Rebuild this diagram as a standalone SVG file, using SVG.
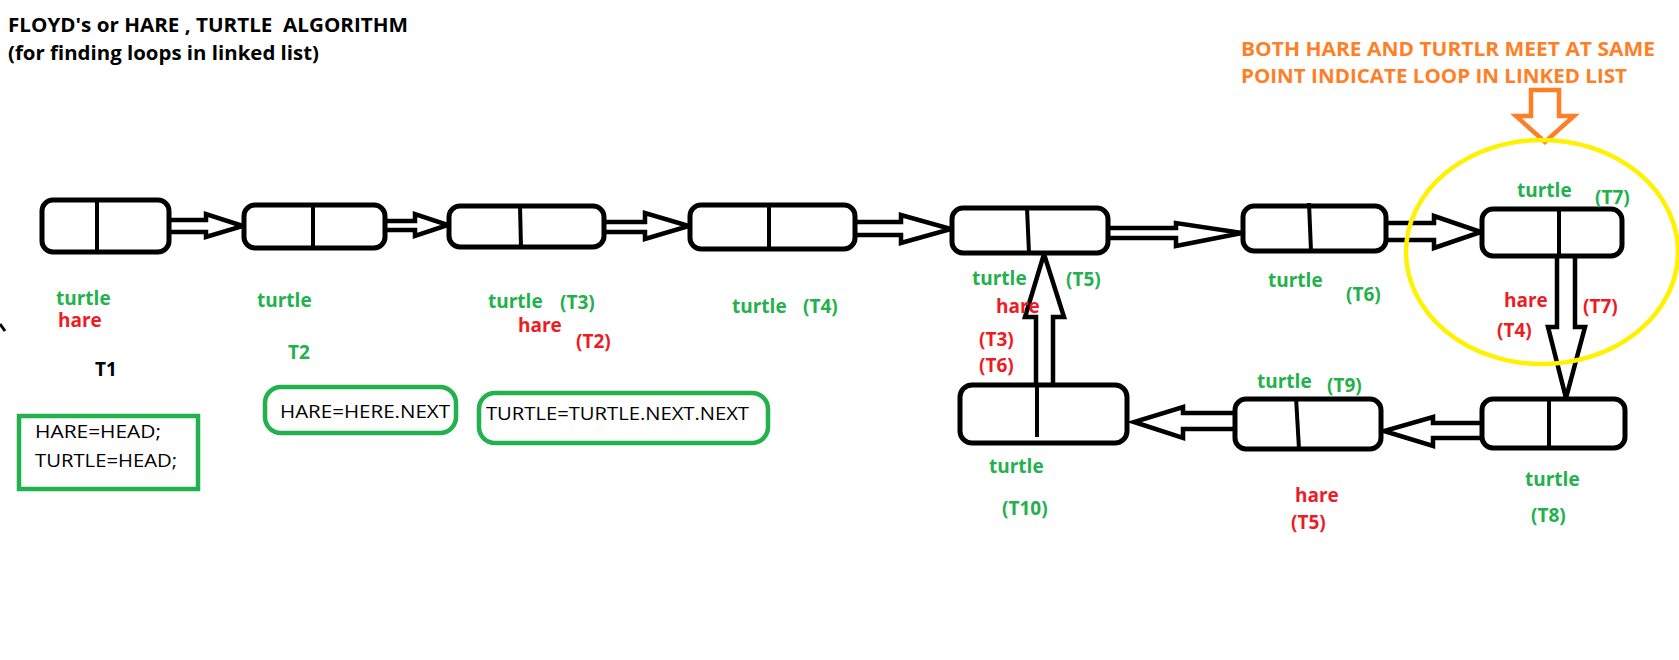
<svg xmlns="http://www.w3.org/2000/svg" width="1679" height="660" viewBox="0 0 1679 660">
<style>
.node rect{fill:#fff;stroke:#000;stroke-width:5}
.node line{stroke:#000;stroke-width:4}
.arr{fill:#fff;stroke:#000;stroke-width:4.5;stroke-linejoin:miter}
.lbl{font-family:"Open Sans","Liberation Sans",sans-serif;font-weight:bold;font-size:19px}
.g{fill:#22B14C}
.r{fill:#ED1C24}
.k{fill:#000}
.o{fill:#FF7F27}
.code{font-family:"Open Sans","Liberation Sans",sans-serif;font-size:18px;fill:#000}
.box{fill:none;stroke:#22B14C;stroke-width:4.5}
</style>
<rect width="1679" height="660" fill="#fff"/>

<g id="title">
<text class="lbl k" x="8" y="32" xml:space="preserve" textLength="400" lengthAdjust="spacingAndGlyphs">FLOYD's or HARE , TURTLE  ALGORITHM</text>
<text class="lbl k" x="8" y="60" textLength="311" lengthAdjust="spacingAndGlyphs">(for finding loops in linked list)</text>
</g>

<g id="note">
<text class="lbl o" x="1241" y="56" textLength="414" lengthAdjust="spacingAndGlyphs">BOTH HARE AND TURTLR MEET AT SAME</text>
<text class="lbl o" x="1241" y="83" textLength="386" lengthAdjust="spacingAndGlyphs">POINT INDICATE LOOP IN LINKED LIST</text>
<polygon points="1531,90 1559,90 1559,116 1574,116 1545,142 1516,116 1531,116" fill="#fff" stroke="#FF7F27" stroke-width="4.5"/>
</g>

<g id="connectors">
<polygon class="arr" points="167,220 206,220 206,214 243,226 206,237 206,232 167,232"/>
<polygon class="arr" points="383,221 415,221 415,214 448,225 415,236 415,230 383,230"/>
<polygon class="arr" points="602,222 645,222 645,213 689,226 645,239 645,232 602,232"/>
<polygon class="arr" points="854,222 901,222 901,215 951,229 901,243 901,235 854,235"/>
<polygon class="arr" points="1106,228 1176,228 1176,223 1242,233 1176,246 1176,238 1106,238"/>
<polygon class="arr" points="1384,223 1434,223 1434,216 1481,232 1434,248 1434,240 1384,240"/>
<polygon class="arr" points="1557,254 1557,327 1548,327 1566,398 1585,327 1575,327 1575,254"/>
<polygon class="arr" points="1483,423 1433,423 1433,417 1384,431 1433,446 1433,438 1483,438"/>
<polygon class="arr" points="1236,413 1183,413 1183,407 1134,422 1183,438 1183,429 1236,429"/>
<polygon class="arr" points="1036,387 1036,317 1025,317 1044,254 1064,317 1053,317 1053,387"/>
<path d="M0,324 L5,331" stroke="#000" stroke-width="3"/>
</g>

<g id="n1" class="node"><rect x="42" y="200" width="127" height="52" rx="11"/><line x1="97" y1="199" x2="97" y2="253"/></g>
<g id="n2" class="node"><rect x="244" y="205" width="141" height="43" rx="11"/><line x1="313" y1="203" x2="313" y2="249"/></g>
<g id="n3" class="node"><rect x="449" y="206" width="155" height="41" rx="11"/><line x1="520" y1="206" x2="521" y2="247"/></g>
<g id="n4" class="node"><rect x="690" y="205" width="165" height="44" rx="11"/><line x1="769" y1="203" x2="769" y2="249"/></g>
<g id="n5" class="node"><rect x="952" y="208" width="156" height="45" rx="11"/><line x1="1027" y1="208" x2="1029" y2="253"/></g>
<g id="n6" class="node"><rect x="1243" y="206" width="143" height="45" rx="11"/><line x1="1309" y1="203" x2="1311" y2="251"/></g>
<g id="n7" class="node"><rect x="1482" y="209" width="140" height="47" rx="11"/><line x1="1559" y1="209" x2="1559" y2="256"/></g>
<g id="n8" class="node"><rect x="1482" y="399" width="143" height="49" rx="11"/><line x1="1549" y1="399" x2="1549" y2="448"/></g>
<g id="n9" class="node"><rect x="1235" y="399" width="146" height="50" rx="11"/><line x1="1296" y1="397" x2="1299" y2="449"/></g>
<g id="n10" class="node"><rect x="960" y="385" width="167" height="58" rx="12"/><line x1="1037" y1="385" x2="1037" y2="437"/></g>

<ellipse id="meet" cx="1542" cy="252" rx="136" ry="112" fill="none" stroke="#FFF200" stroke-width="4.5"/>

<g id="labels">
<text class="lbl g" x="56" y="305">turtle</text>
<text class="lbl r" x="58" y="327">hare</text>
<text class="lbl g" x="257" y="307">turtle</text>
<text class="lbl g" x="488" y="308">turtle</text>
<text class="lbl g" x="560" y="309">(T3)</text>
<text class="lbl r" x="518" y="332">hare</text>
<text class="lbl r" x="576" y="348">(T2)</text>
<text class="lbl g" x="732" y="313">turtle</text>
<text class="lbl g" x="803" y="313">(T4)</text>
<text class="lbl k" x="95" y="376">T1</text>
<text class="lbl g" x="288" y="359">T2</text>
<text class="lbl g" x="972" y="285">turtle</text>
<text class="lbl g" x="1066" y="286">(T5)</text>
<text class="lbl r" x="996" y="313">hare</text>
<text class="lbl r" x="979" y="346">(T3)</text>
<text class="lbl r" x="979" y="372">(T6)</text>
<text class="lbl g" x="1268" y="287">turtle</text>
<text class="lbl g" x="1346" y="301">(T6)</text>
<text class="lbl g" x="1517" y="197">turtle</text>
<text class="lbl g" x="1595" y="204">(T7)</text>
<text class="lbl r" x="1504" y="307">hare</text>
<text class="lbl r" x="1583" y="313">(T7)</text>
<text class="lbl r" x="1497" y="337">(T4)</text>
<text class="lbl g" x="1257" y="388">turtle</text>
<text class="lbl g" x="1327" y="392">(T9)</text>
<text class="lbl g" x="989" y="473">turtle</text>
<text class="lbl g" x="1002" y="515">(T10)</text>
<text class="lbl r" x="1295" y="502">hare</text>
<text class="lbl r" x="1291" y="529">(T5)</text>
<text class="lbl g" x="1525" y="486">turtle</text>
<text class="lbl g" x="1531" y="522">(T8)</text>
</g>

<g id="code1">
<rect class="box" x="19" y="416" width="179" height="73"/>
<text class="code" x="35" y="438" textLength="126" lengthAdjust="spacingAndGlyphs">HARE=HEAD;</text>
<text class="code" x="35" y="467" textLength="142" lengthAdjust="spacingAndGlyphs">TURTLE=HEAD;</text>
</g>
<g id="code2">
<rect class="box" x="265" y="387" width="191" height="46" rx="16"/>
<text class="code" x="280" y="418" textLength="170" lengthAdjust="spacingAndGlyphs">HARE=HERE.NEXT</text>
</g>
<g id="code3">
<rect class="box" x="479" y="393" width="289" height="50" rx="16"/>
<text class="code" x="486" y="420" textLength="263" lengthAdjust="spacingAndGlyphs">TURTLE=TURTLE.NEXT.NEXT</text>
</g>
</svg>
